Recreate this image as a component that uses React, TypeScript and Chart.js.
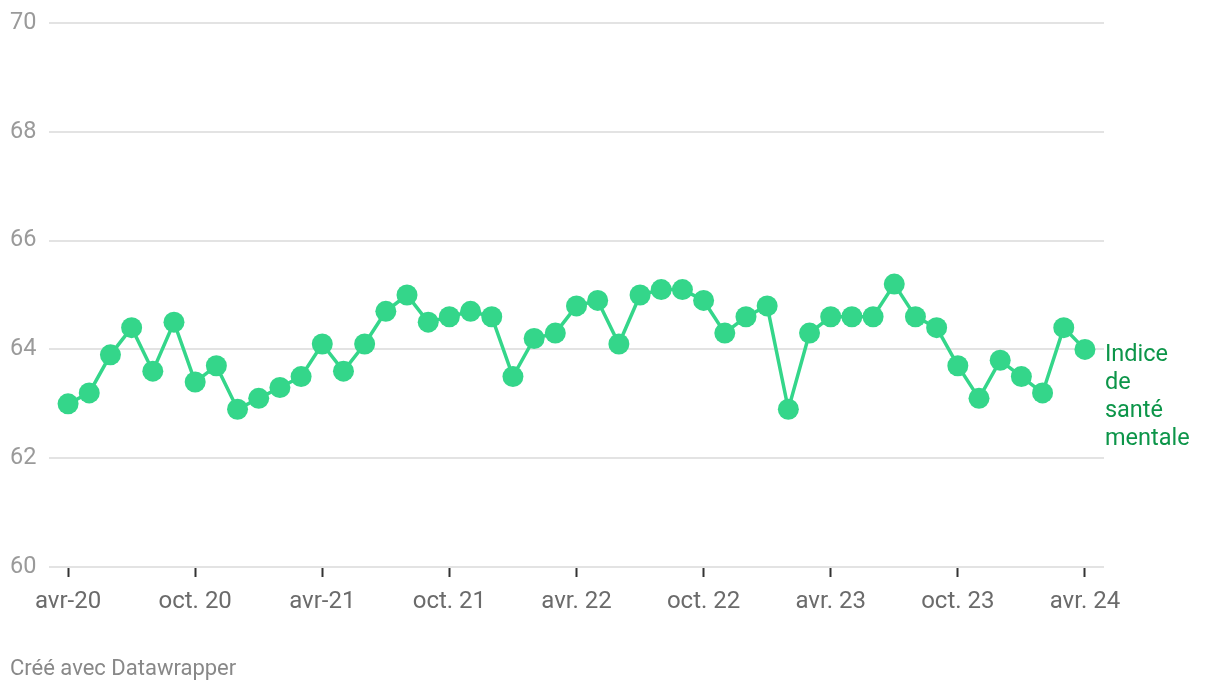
import React, { useEffect, useRef } from "react";
import { Chart, registerables } from "chart.js";

Chart.register(...registerables);

const months: string[] = [
  "2020-04","2020-05","2020-06","2020-07","2020-08","2020-09","2020-10","2020-11","2020-12",
  "2021-01","2021-02","2021-03","2021-04","2021-05","2021-06","2021-07","2021-08","2021-09","2021-10","2021-11","2021-12",
  "2022-01","2022-02","2022-03","2022-04","2022-05","2022-06","2022-07","2022-08","2022-09","2022-10","2022-11","2022-12",
  "2023-01","2023-02","2023-03","2023-04","2023-05","2023-06","2023-07","2023-08","2023-09","2023-10","2023-11","2023-12",
  "2024-01","2024-02","2024-03","2024-04",
];

const indexValues: number[] = [
  63.0, 63.2, 63.9, 64.4, 63.6, 64.5, 63.4, 63.7, 62.9,
  63.1, 63.3, 63.5, 64.1, 63.6, 64.1, 64.7, 65.0, 64.5, 64.6, 64.7, 64.6,
  63.5, 64.2, 64.3, 64.8, 64.9, 64.1, 65.0, 65.1, 65.1, 64.9, 64.3, 64.6,
  64.8, 62.9, 64.3, 64.6, 64.6, 64.6, 65.2, 64.6, 64.4, 63.7, 63.1, 63.8,
  63.5, 63.2, 64.4, 64.0,
];

const xTickPositions: number[] = [0, 6, 12, 18, 24, 30, 36, 42, 48];
const xTickLabels: string[] = ["avr-20", "oct. 20", "avr-21", "oct. 21", "avr. 22", "oct. 22", "avr. 23", "oct. 23", "avr. 24"];
const yTicks: number[] = [60, 62, 64, 66, 68, 70];
const seriesLabel: string[] = ["Indice", "de", "santé", "mentale"];

const LINE_COLOR = "#34d68a";
const LABEL_COLOR = "#0c9549";
const FONT = "Roboto";

export default function App() {
  const ref = useRef<HTMLCanvasElement | null>(null);

  useEffect(() => {
    if (!ref.current) return;
    const labelPlugin = {
      id: "endLabel",
      afterDatasetsDraw(chart: any) {
        const meta = chart.getDatasetMeta(0);
        const last = meta.data[meta.data.length - 1];
        if (!last) return;
        const ctx = chart.ctx;
        ctx.save();
        ctx.font = `23.5px ${FONT}`;
        ctx.fillStyle = LABEL_COLOR;
        ctx.textAlign = "left";
        ctx.textBaseline = "middle";
        seriesLabel.forEach((t, i) => {
          ctx.fillText(t, last.x + 20, last.y + 6 + i * 28);
        });
        ctx.restore();
      },
    };

    const chart = new Chart(ref.current, {
      type: "line",
      data: {
        datasets: [
          {
            label: "Indice de santé mentale",
            data: indexValues.map((v, i) => ({ x: i, y: v })),
            borderColor: LINE_COLOR,
            backgroundColor: LINE_COLOR,
            borderWidth: 3.5,
            pointRadius: 10.5,
            pointBorderWidth: 0,
            pointBackgroundColor: LINE_COLOR,
            tension: 0,
          },
        ],
      },
      options: {
        animation: false,
        responsive: false,
        maintainAspectRatio: false,
        layout: { padding: { top: 23, left: 10, right: 116, bottom: 0 } },
        plugins: {
          legend: { display: false },
          tooltip: { enabled: false },
        },
        scales: {
          x: {
            type: "linear",
            min: -0.9,
            max: 48.9,
            afterBuildTicks: (scale: any) => {
              scale.ticks = xTickPositions.map((v) => ({ value: v }));
            },
            afterFit: (scale: any) => {
              scale.height = 692 - 567;
            },
            grid: {
              drawOnChartArea: false,
              drawTicks: true,
              tickLength: 10,
              tickColor: "#333333",
              tickWidth: 2,
            },
            border: { display: false },
            ticks: {
              autoSkip: false,
              maxRotation: 0,
              padding: 11,
              color: "#6b6b6b",
              font: { family: FONT, size: 24 },
              callback: (v: any) => {
                const i = xTickPositions.indexOf(Number(v));
                return i >= 0 ? xTickLabels[i] : "";
              },
            },
          },
          y: {
            min: 60,
            max: 70,
            afterBuildTicks: (scale: any) => {
              scale.ticks = yTicks.map((v) => ({ value: v }));
            },
            afterFit: (scale: any) => {
              scale.width = 39;
            },
            grid: {
              color: "#e3e3e3",
              lineWidth: 2,
              drawTicks: false,
            },
            border: { display: false },
            ticks: {
              crossAlign: "far",
              padding: 0,
              color: "#9a9a9a",
              font: { family: FONT, size: 23.5 },
            },
          },
        },
      },
      plugins: [labelPlugin],
    });
    return () => chart.destroy();
  }, []);

  return (
    <div style={{ position: "fixed", left: 0, top: 0, width: 1220, height: 692, background: "#fff" }}>
      <canvas ref={ref} width={1220} height={692} style={{ width: 1220, height: 692, display: "block" }} />
      <div
        style={{
          position: "absolute",
          left: 10,
          top: 655,
          fontFamily: FONT,
          fontSize: 22,
          color: "#888888",
          lineHeight: "26px",
          whiteSpace: "nowrap",
        }}
      >
        Créé avec Datawrapper
      </div>
    </div>
  );
}
